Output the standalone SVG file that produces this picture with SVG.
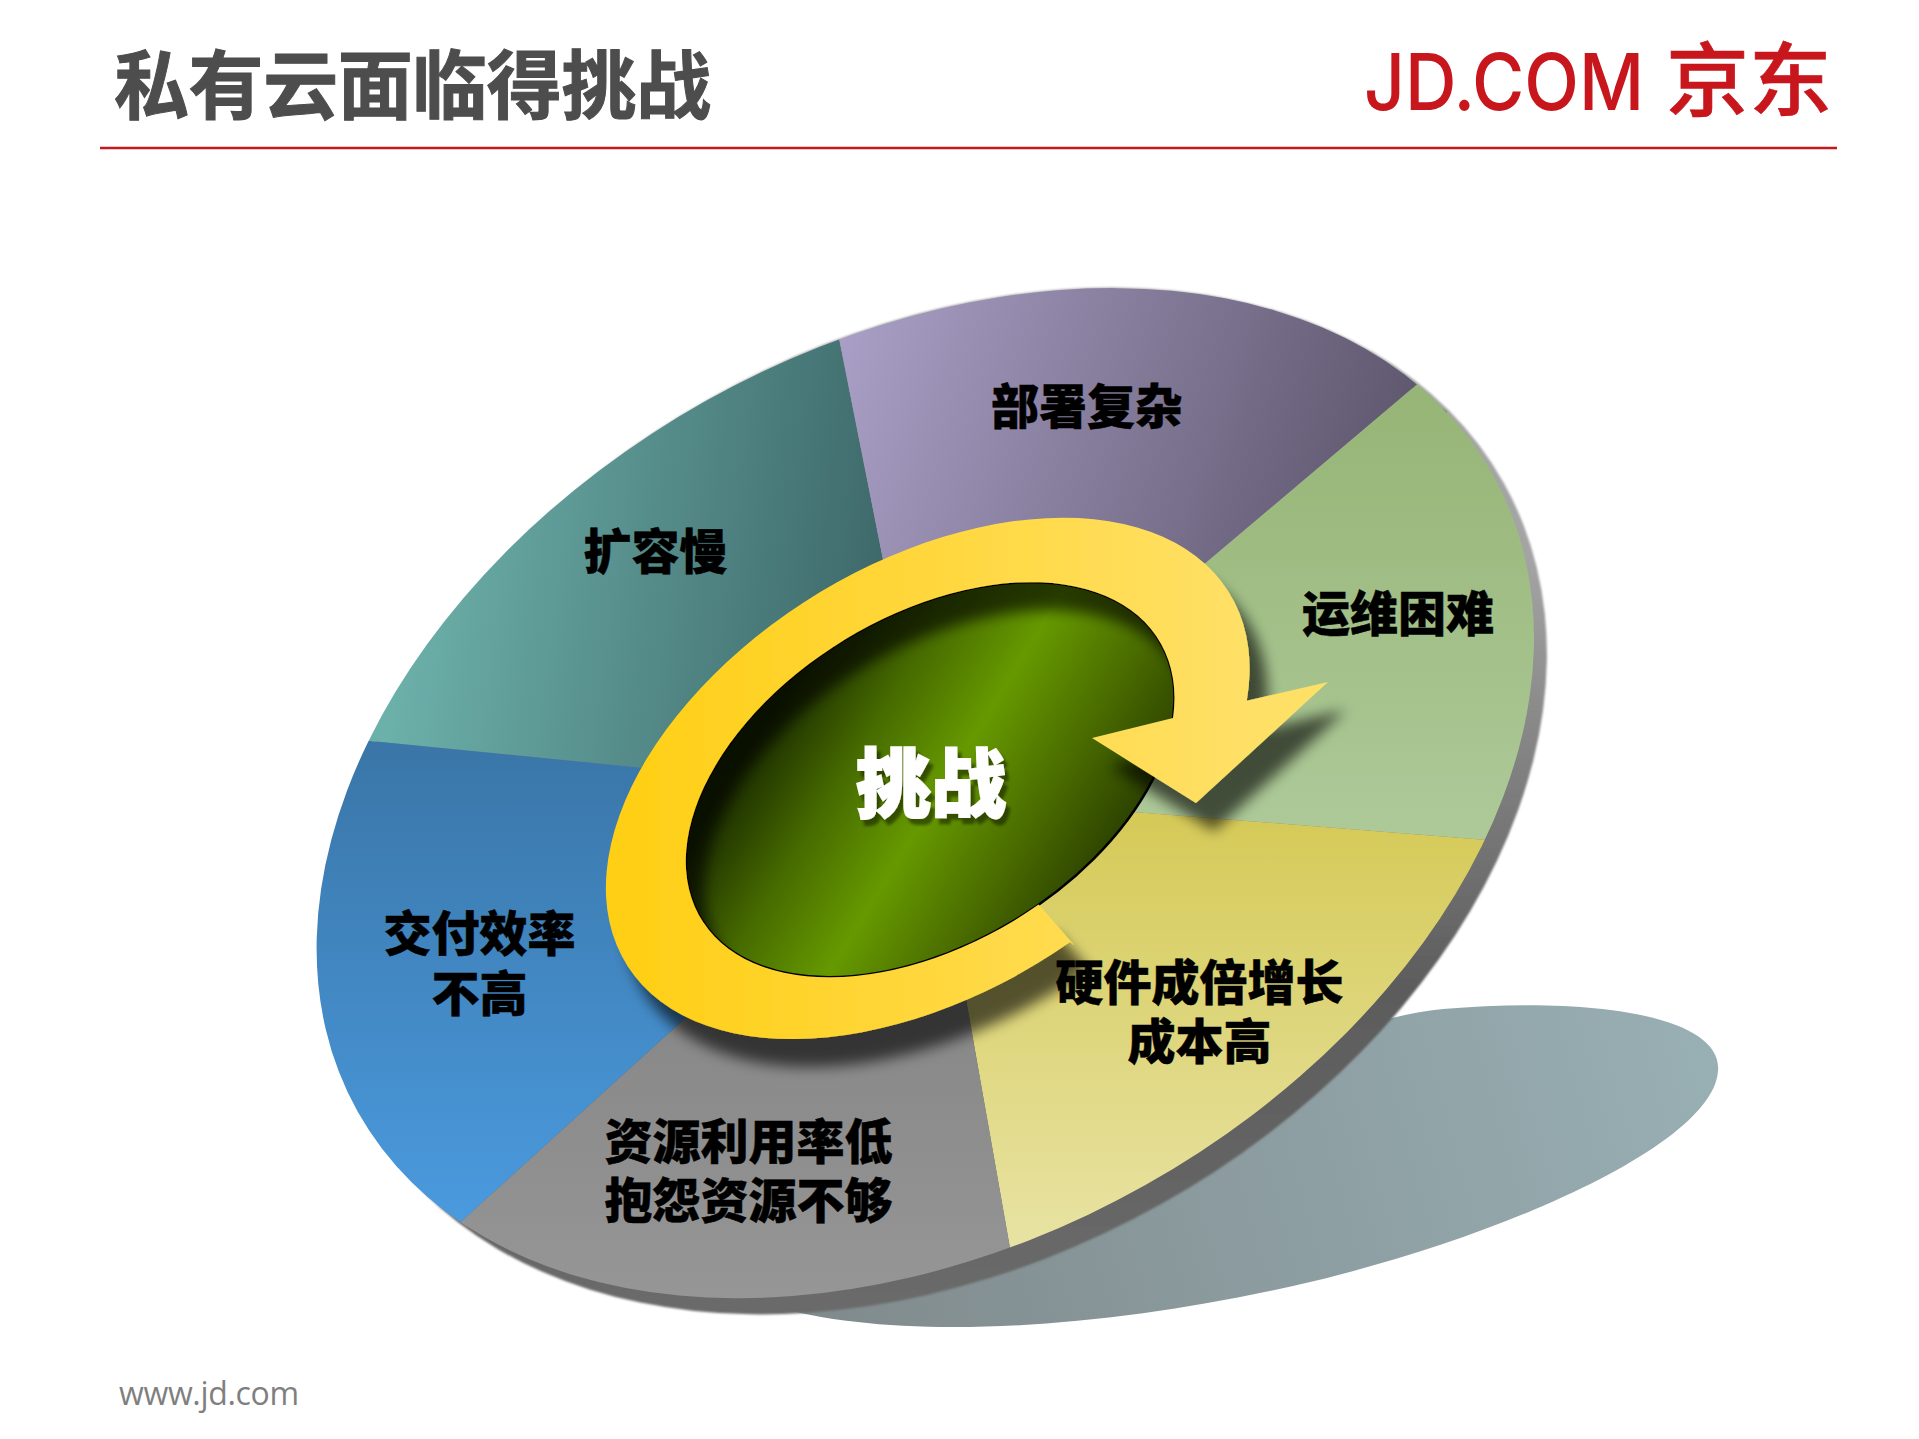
<svg xmlns="http://www.w3.org/2000/svg" width="1919" height="1439" viewBox="0 0 1919 1439">
<style>
.lb{font-family:"Noto Sans CJK SC","Liberation Sans",sans-serif;font-weight:900;font-size:48px;fill:#000;stroke:#000;stroke-width:.5px;text-anchor:middle}
</style>
<defs>
<clipPath id="discClip"><path d="M357.6 1111.5A640 442 -29.3 1 1 1493 474.9A640 442 -29.3 1 1 357.6 1111.5Z"/></clipPath>
<linearGradient id="gShadow" gradientUnits="userSpaceOnUse" x1="800" y1="1300" x2="1710" y2="1050"><stop offset="0" stop-color="#808a8c"/><stop offset="1" stop-color="#98afb4"/></linearGradient>
<linearGradient id="gSide" gradientUnits="userSpaceOnUse" x1="0" y1="560" x2="0" y2="1340"><stop offset="0" stop-color="#a4a4a4"/><stop offset=".55" stop-color="#5c5c5c"/><stop offset="1" stop-color="#6c6c6c"/></linearGradient>
<linearGradient id="gTeal" gradientUnits="userSpaceOnUse" x1="400" y1="640" x2="860" y2="700"><stop offset="0" stop-color="#6cb0aa"/><stop offset="1" stop-color="#3f6a6c"/></linearGradient>
<linearGradient id="gPurple" gradientUnits="userSpaceOnUse" x1="850" y1="340" x2="1400" y2="520"><stop offset="0" stop-color="#a89dc4"/><stop offset="1" stop-color="#5c556b"/></linearGradient>
<linearGradient id="gGreen" gradientUnits="userSpaceOnUse" x1="0" y1="400" x2="0" y2="850"><stop offset="0" stop-color="#96b576"/><stop offset="1" stop-color="#aeca9a"/></linearGradient>
<linearGradient id="gYellow" gradientUnits="userSpaceOnUse" x1="0" y1="820" x2="0" y2="1250"><stop offset="0" stop-color="#d5ca58"/><stop offset="1" stop-color="#e8e3a4"/></linearGradient>
<linearGradient id="gGray" gradientUnits="userSpaceOnUse" x1="0" y1="1020" x2="0" y2="1320"><stop offset="0" stop-color="#888"/><stop offset="1" stop-color="#979797"/></linearGradient>
<linearGradient id="gBlue" gradientUnits="userSpaceOnUse" x1="0" y1="750" x2="0" y2="1220"><stop offset="0" stop-color="#3a76a8"/><stop offset="1" stop-color="#4a9ade"/></linearGradient>
<linearGradient id="gCore" gradientUnits="userSpaceOnUse" x1="772" y1="711" x2="1088" y2="905"><stop offset="0" stop-color="#1a2a00"/><stop offset=".25" stop-color="#466a00"/><stop offset=".5" stop-color="#669900"/><stop offset=".75" stop-color="#4a6c00"/><stop offset="1" stop-color="#2a3e00"/></linearGradient>
<linearGradient id="gRing" gradientUnits="userSpaceOnUse" x1="640" y1="0" x2="1240" y2="0"><stop offset="0" stop-color="#ffcf17"/><stop offset="1" stop-color="#ffe066"/></linearGradient>
<filter id="soft" x="-5%" y="-5%" width="110%" height="110%"><feGaussianBlur stdDeviation=".9"/></filter>
<filter id="ringShadow" x="-20%" y="-20%" width="140%" height="140%"><feGaussianBlur in="SourceAlpha" stdDeviation="7"/><feOffset dx="18" dy="28"/><feComponentTransfer><feFuncA type="linear" slope=".62"/></feComponentTransfer><feMerge><feMergeNode/><feMergeNode in="SourceGraphic"/></feMerge></filter>
<filter id="txtShadow" x="-20%" y="-20%" width="140%" height="140%"><feGaussianBlur in="SourceAlpha" stdDeviation="1.5"/><feOffset dx="4" dy="6"/><feComponentTransfer><feFuncA type="linear" slope=".45"/></feComponentTransfer><feMerge><feMergeNode/><feMergeNode in="SourceGraphic"/></feMerge></filter>
</defs>
<rect width="1919" height="1439" fill="#fff"/>
<g id="header">
<text x="114" y="112.5" font-family="'Noto Sans CJK SC','Liberation Sans',sans-serif" font-weight="700" font-size="75" fill="#4d4d4d" stroke="#4d4d4d" stroke-width="1" textLength="597">私有云面临得挑战</text>
<text x="1364" y="110" font-family="Inter,'Liberation Sans',sans-serif" font-weight="500" font-size="79" fill="#c8161d" textLength="280" lengthAdjust="spacingAndGlyphs">JD.COM</text>
<text x="1666" y="109" font-family="'Noto Sans CJK SC','Liberation Sans',sans-serif" font-weight="500" font-size="80" fill="#c8161d" stroke="#c8161d" stroke-width=".6" textLength="166" lengthAdjust="spacingAndGlyphs">京东</text>
<line x1="100" y1="148" x2="1837" y2="148" stroke="#c8161d" stroke-width="2.5"/>
</g>
<path id="ground-shadow" d="M773 1306C893 1341 1093 1331 1293 1286C1493 1241 1713 1146 1718 1071C1723 1016 1593 996 1443 1009C1410 1012 1380 1020 1340 1035L1000 1100Z" fill="url(#gShadow)"/>
<path id="disc-side" d="M368.3 1119.3A640 454 -29.3 1 1 1503.7 482.7A640 454 -29.3 1 1 368.3 1119.3Z" fill="url(#gSide)" filter="url(#soft)"/>
<line x1="1412" y1="386" x2="1446" y2="413" stroke="#5c556b" stroke-width="3"/>
<g id="disc" clip-path="url(#discClip)">
<path id="seg-teal" d="M930 796L-190 686L-200 -110L750 -110Z" fill="url(#gTeal)"/>
<path id="seg-purple" d="M930 796L750 -110L1898 -22Z" fill="url(#gPurple)"/>
<path id="seg-green" d="M930 796L1898 -22L2044 884Z" fill="url(#gGreen)"/>
<path id="seg-yellow" d="M930 796L2044 884L1090 1700Z" fill="url(#gYellow)"/>
<path id="seg-gray" d="M930 796L1090 1700L0 1640Z" fill="url(#gGray)"/>
<path id="seg-blue" d="M930 796L0 1640L-190 686Z" fill="url(#gBlue)"/>
</g>
<path id="core" d="M701.2 918.9A260 159.1 -31.3 1 1 1159.2 640.5A260 159.1 -31.3 1 1 701.2 918.9Z" fill="url(#gCore)" stroke="#000" stroke-width="2.5"/>
<path id="ring-arrow" d="M1074 945L1070 942A354 215 -31.6 1 1 1246.8 700.8L1250 700L1328 682L1196 803L1092 738L1173 718A268 164 -31.3 1 0 1038.6 904.6L1040 906Z" fill="url(#gRing)" filter="url(#ringShadow)"/>
<g id="labels">
<text class="lb" x="1087" y="424">部署复杂</text>
<text class="lb" x="655.5" y="568.5">扩容慢</text>
<text class="lb" x="1398" y="631">运维困难</text>
<text class="lb" x="479.5" y="951">交付效率</text>
<text class="lb" x="479.5" y="1011">不高</text>
<text class="lb" x="1199.5" y="1000">硬件成倍增长</text>
<text class="lb" x="1199.5" y="1059">成本高</text>
<text class="lb" x="748.5" y="1159">资源利用率低</text>
<text class="lb" x="748.5" y="1218">抱怨资源不够</text>
<text x="931" y="811" text-anchor="middle" font-family="'Noto Sans CJK SC','Liberation Sans',sans-serif" font-weight="900" font-size="75" fill="#fff" stroke="#fff" stroke-width="2" filter="url(#txtShadow)">挑战</text>
</g>
<text id="footer" x="119" y="1405" font-family="'Open Sans','Liberation Sans',sans-serif" font-size="32" fill="#7f7f7f" textLength="180">www.jd.com</text>
</svg>
